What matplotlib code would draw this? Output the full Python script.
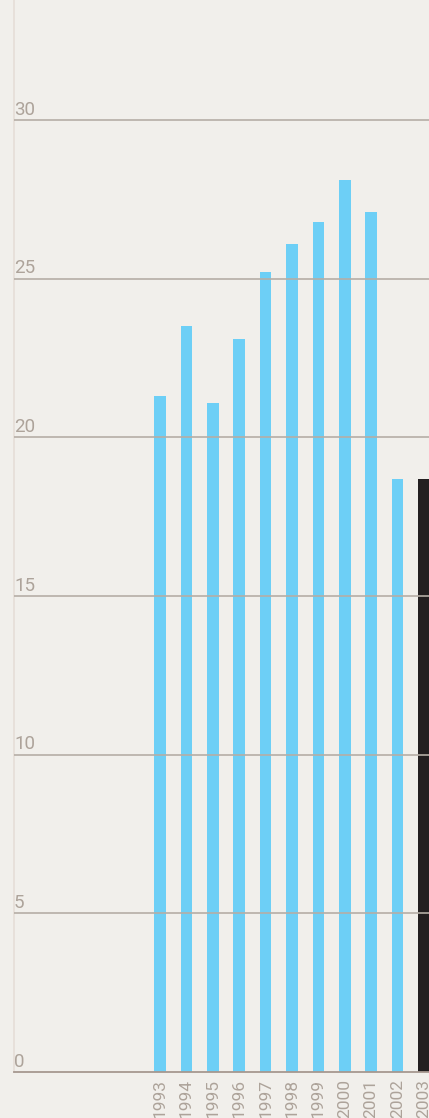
import matplotlib
matplotlib.use("Agg")
import matplotlib.pyplot as plt

years = ["1993", "1994", "1995", "1996", "1997", "1998", "1999", "2000", "2001", "2002", "2003"]
values = [21.3, 23.5, 21.08, 23.1, 25.2, 26.1, 26.8, 28.1, 27.1, 18.69, 18.69]
bar_colors = ["#6dcff6"] * 10 + ["#231f20"]
yticks = [0, 5, 10, 15, 20, 25, 30]

W, H = 429, 1118
fig = plt.figure(figsize=(W / 100, H / 100), dpi=100)
bg = "#f1efeb"
fig.patch.set_facecolor(bg)

left = 14 / W
bottom = (H - 1072) / H
ax = fig.add_axes([left, bottom, 1 - left, 1 - bottom])
ax.set_facecolor(bg)

x = list(range(len(years)))
ax.bar(x, values, width=0.44, color=bar_colors, zorder=2)

ax.set_ylim(0, 1072 / 31.73)
ax.set_xlim(-5.53, 10.19)

for t in yticks:
    if t > 0:
        ax.axhline(t, color="#b5aea6", lw=1.2, zorder=3)
    ax.text(0.0, t + 0.04, str(t), transform=ax.get_yaxis_transform(),
            ha="left", va="bottom", fontsize=13.5, color="#ada39a",
            family="Roboto")

ax.set_yticks([])
ax.set_xticks(x)
ax.set_xticklabels(years, rotation=90, fontsize=12.5, color="#ada39a",
                   family="Roboto", va="top")
ax.tick_params(axis="x", length=0, pad=5)

for s in ["top", "right"]:
    ax.spines[s].set_visible(False)
ax.spines["left"].set_color("#e6ddd7")
ax.spines["left"].set_linewidth(1.2)
ax.spines["bottom"].set_color("#a69890")
ax.spines["bottom"].set_linewidth(1.3)
ax.spines["bottom"].set_zorder(4)

fig.savefig("out.png", dpi=100, facecolor=bg)
